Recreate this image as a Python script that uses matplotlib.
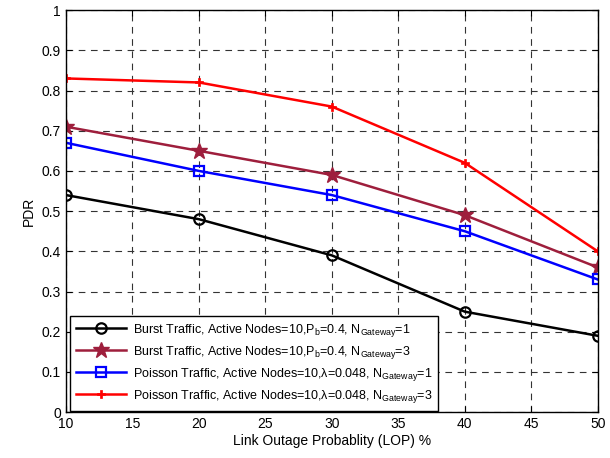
import matplotlib
matplotlib.use("Agg")
import matplotlib.pyplot as plt

plt.rcParams['font.family'] = ['Liberation Sans', 'DejaVu Sans']
plt.rcParams['mathtext.fontset'] = 'custom'
plt.rcParams['mathtext.rm'] = 'Liberation Sans'
plt.rcParams['mathtext.it'] = 'Liberation Sans'

lop = [10, 20, 30, 40, 50]
burst_gw1 = [0.54, 0.48, 0.39, 0.25, 0.19]
burst_gw3 = [0.71, 0.65, 0.59, 0.49, 0.36]
poisson_gw1 = [0.67, 0.60, 0.54, 0.45, 0.33]
poisson_gw3 = [0.83, 0.82, 0.76, 0.62, 0.40]

labels = [
    r'Burst Traffic, Active Nodes=10,P$_{\mathregular{b}}$=0.4, N$_{\mathregular{Gateway}}$=1',
    r'Burst Traffic, Active Nodes=10,P$_{\mathregular{b}}$=0.4, N$_{\mathregular{Gateway}}$=3',
    r'Poisson Traffic, Active Nodes=10,$\lambda$=0.048, N$_{\mathregular{Gateway}}$=1',
    r'Poisson Traffic, Active Nodes=10,$\lambda$=0.048, N$_{\mathregular{Gateway}}$=3',
]

fig = plt.figure(figsize=(6.10, 4.58), dpi=100)
ax = fig.add_axes([0.108, 0.100, 0.872, 0.878])

ax.plot(lop, burst_gw1, '-', color='black', lw=1.8, marker='o', ms=7.5,
        mfc='none', mew=1.6, label=labels[0])
ax.plot(lop, burst_gw3, '-', color='#9E1E3C', lw=1.8, marker='*', ms=12,
        mfc='#9E1E3C', mew=1, label=labels[1])
ax.plot(lop, poisson_gw1, '-', color='#0000FF', lw=1.8, marker='s', ms=7,
        mfc='none', mew=1.6, label=labels[2])
ax.plot(lop, poisson_gw3, '-', color='#FF0000', lw=1.8, marker='P', ms=6,
        mfc='#FF0000', mew=0.5, label=labels[3])

ax.set_xlim(10, 50)
ax.set_ylim(0, 1)
ax.set_xticks(range(10, 51, 5))
ax.set_yticks([i / 10 for i in range(11)])
ax.set_yticklabels(['0', '0.1', '0.2', '0.3', '0.4', '0.5', '0.6', '0.7', '0.8', '0.9', '1'])
ax.grid(True, color='#333333', linestyle=(0, (6, 5)), linewidth=0.8)
ax.tick_params(direction='in', labelsize=10, length=4, top=True, right=True)
for s in ax.spines.values():
    s.set_linewidth(1.0)

ax.set_xlabel('Link Outage Probablity (LOP) %', fontsize=10, labelpad=2)
ax.set_ylabel('PDR', fontsize=10, labelpad=4)

leg = ax.legend(loc='lower left', bbox_to_anchor=(0.008, 0.004), borderaxespad=0,
                fontsize=9, fancybox=False, edgecolor='black', framealpha=1,
                handlelength=4.0, borderpad=0.45, labelspacing=0.4, handletextpad=0.6)
leg.get_frame().set_linewidth(1.0)

fig.savefig('out.png', dpi=100)
